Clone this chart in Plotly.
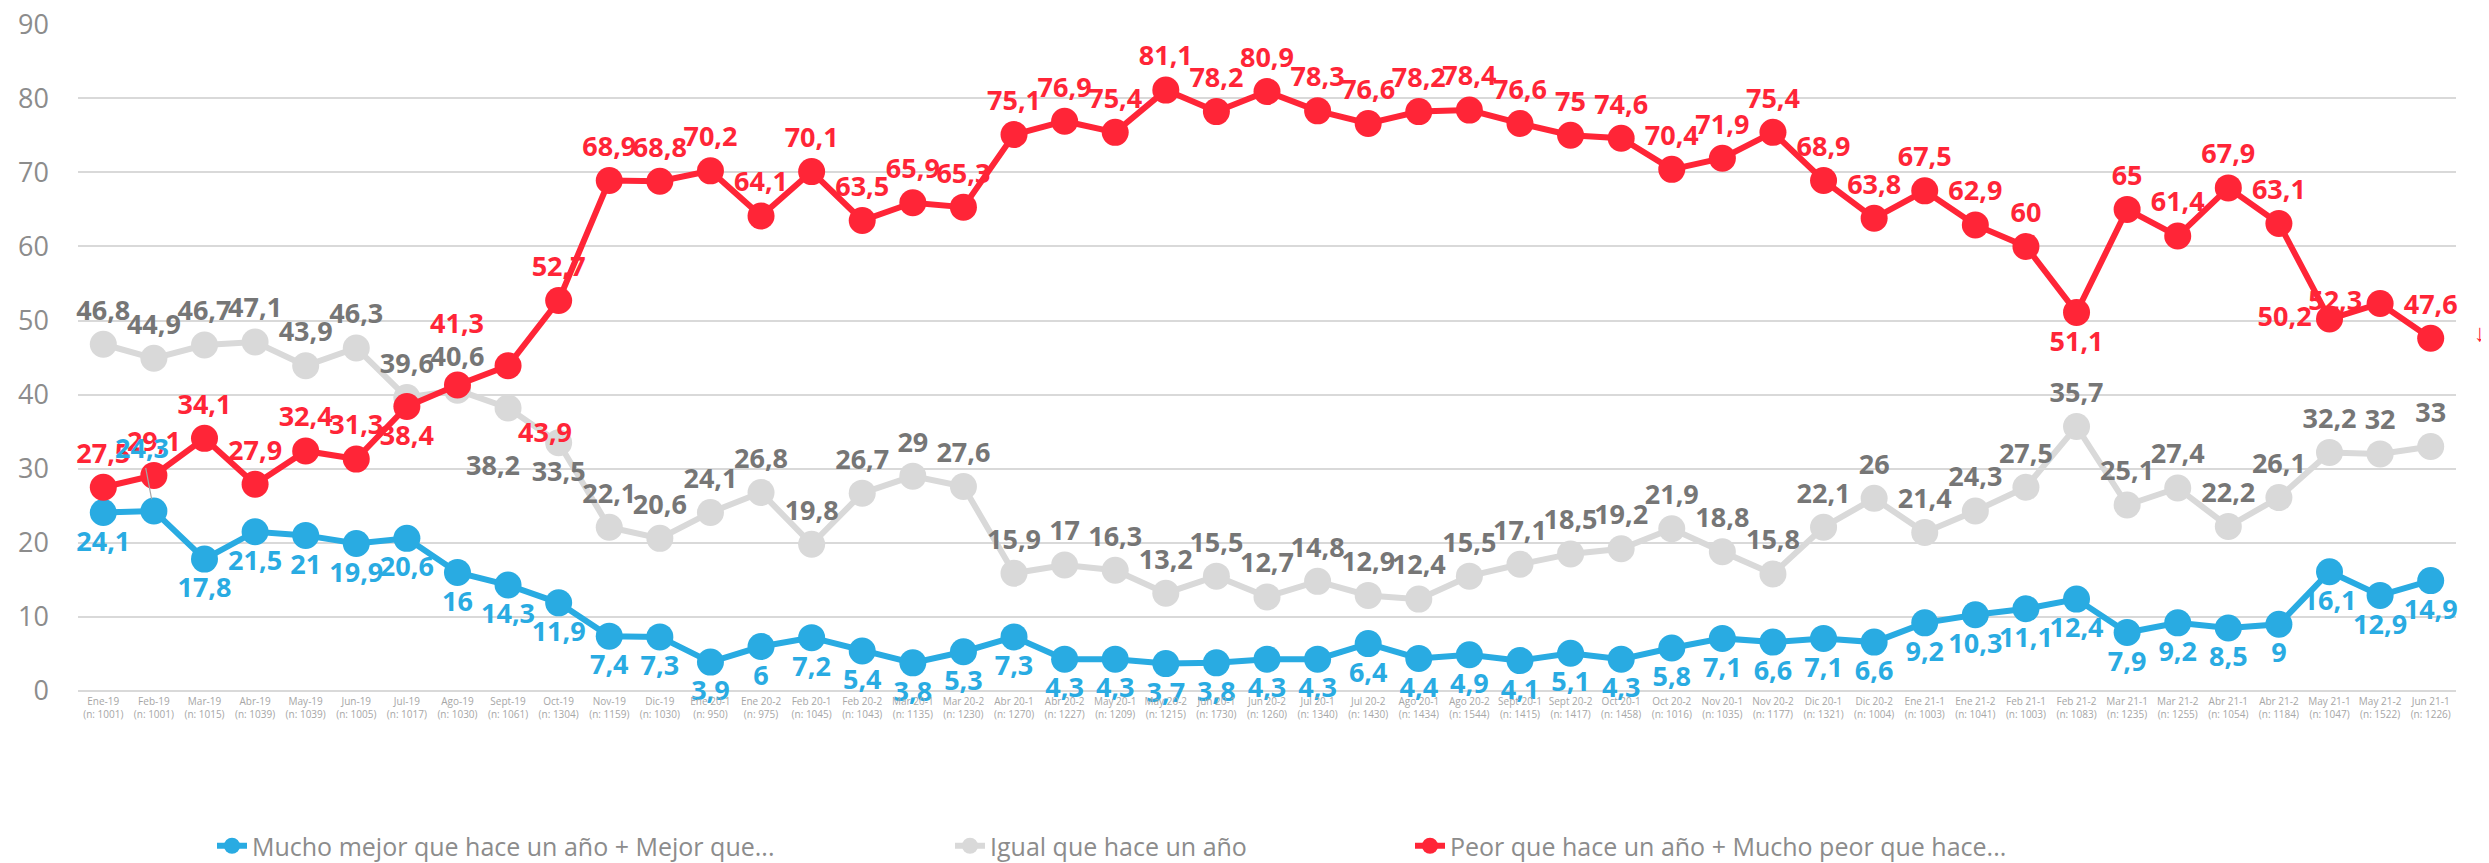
import plotly.graph_objects as go

categories = [
    "Ene-19<br>(n: 1001)", "Feb-19<br>(n: 1001)", "Mar-19<br>(n: 1015)", "Abr-19<br>(n: 1039)",
    "May-19<br>(n: 1039)", "Jun-19<br>(n: 1005)", "Jul-19<br>(n: 1017)", "Ago-19<br>(n: 1030)",
    "Sept-19<br>(n: 1061)", "Oct-19<br>(n: 1304)", "Nov-19<br>(n: 1159)", "Dic-19<br>(n: 1030)",
    "Ene 20-1<br>(n: 950)", "Ene 20-2<br>(n: 975)", "Feb 20-1<br>(n: 1045)", "Feb 20-2<br>(n: 1043)",
    "Mar 20-1<br>(n: 1135)", "Mar 20-2<br>(n: 1230)", "Abr 20-1<br>(n: 1270)", "Abr 20-2<br>(n: 1227)",
    "May 20-1<br>(n: 1209)", "May 20-2<br>(n: 1215)", "Jun 20-1<br>(n: 1730)", "Jun 20-2<br>(n: 1260)",
    "Jul 20-1<br>(n: 1340)", "Jul 20-2<br>(n: 1430)", "Ago 20-1<br>(n: 1434)", "Ago 20-2<br>(n: 1544)",
    "Sept 20-1<br>(n: 1415)", "Sept 20-2<br>(n: 1417)", "Oct 20-1<br>(n: 1458)", "Oct 20-2<br>(n: 1016)",
    "Nov 20-1<br>(n: 1035)", "Nov 20-2<br>(n: 1177)", "Dic 20-1<br>(n: 1321)", "Dic 20-2<br>(n: 1004)",
    "Ene 21-1<br>(n: 1003)", "Ene 21-2<br>(n: 1041)", "Feb 21-1<br>(n: 1003)", "Feb 21-2<br>(n: 1083)",
    "Mar 21-1<br>(n: 1235)", "Mar 21-2<br>(n: 1255)", "Abr 21-1<br>(n: 1054)", "Abr 21-2<br>(n: 1184)",
    "May 21-1<br>(n: 1047)", "May 21-2<br>(n: 1522)", "Jun 21-1<br>(n: 1226)",
]

mejor = [24.1, 24.3, 17.8, 21.5, 21, 19.9, 20.6, 16, 14.3, 11.9,
         7.4, 7.3, 3.9, 6, 7.2, 5.4, 3.8, 5.3, 7.3, 4.3,
         4.3, 3.7, 3.8, 4.3, 4.3, 6.4, 4.4, 4.9, 4.1, 5.1,
         4.3, 5.8, 7.1, 6.6, 7.1, 6.6, 9.2, 10.3, 11.1, 12.4,
         7.9, 9.2, 8.5, 9, 16.1, 12.9, 14.9]

igual = [46.8, 44.9, 46.7, 47.1, 43.9, 46.3, 39.6, 40.6, 38.2, 33.5,
         22.1, 20.6, 24.1, 26.8, 19.8, 26.7, 29, 27.6, 15.9, 17,
         16.3, 13.2, 15.5, 12.7, 14.8, 12.9, 12.4, 15.5, 17.1, 18.5,
         19.2, 21.9, 18.8, 15.8, 22.1, 26, 21.4, 24.3, 27.5, 35.7,
         25.1, 27.4, 22.2, 26.1, 32.2, 32, 33]

peor = [27.5, 29.1, 34.1, 27.9, 32.4, 31.3, 38.4, 41.3, 43.9, 52.7,
        68.9, 68.8, 70.2, 64.1, 70.1, 63.5, 65.9, 65.3, 75.1, 76.9,
        75.4, 81.1, 78.2, 80.9, 78.3, 76.6, 78.2, 78.4, 76.6, 75,
        74.6, 70.4, 71.9, 75.4, 68.9, 63.8, 67.5, 62.9, 60, 51.1,
        65, 61.4, 67.9, 63.1, 50.2, 52.3, 47.6]

y_ticks = [0, 10, 20, 30, 40, 50, 60, 70, 80, 90]

series_names = [
    "Mucho mejor que hace un año + Mejor que...",
    "Igual que hace un año",
    "Peor que hace un año + Mucho peor que hace...",
]

BLUE = "#29abe2"
GRAY_LINE = "#d9d9d9"
GRAY_TEXT = "#767676"
RED = "#ff2537"
AXIS_TEXT = "#8c8c8c"
FONT = "Open Sans"
LABEL_SIZE = 27


def fmt(v):
    return ("%g" % v).replace(".", ",")


n = len(categories)
pos_mejor = ["bottom center"] * n
pos_igual = ["top center"] * n
pos_igual[9] = "bottom center"
pos_peor = ["top center"] * n
pos_peor[6] = "bottom center"
pos_peor[39] = "bottom center"
pos_peor[44] = "middle left"
pos_peor[45] = "middle left"

# labels moved by hand in the original chart: (series, index) -> (dx, dy) in px (dy down)
moved = {
    ("peor", 7): (0, -62),
    ("peor", 8): (37, 66),
    ("igual", 8): (-15, 57),
}

series = {"mejor": mejor, "igual": igual, "peor": peor}
texts = {k: [fmt(v) for v in vals] for k, vals in series.items()}
texts["mejor"][1] = ""
for (k, i) in moved:
    texts[k][i] = ""

fig = go.Figure()

specs = [
    ("mejor", series_names[0], BLUE, BLUE, pos_mejor, "legend"),
    ("igual", series_names[1], GRAY_LINE, GRAY_TEXT, pos_igual, "legend2"),
    ("peor", series_names[2], RED, RED, pos_peor, "legend3"),
]
text_color = {}
for key, name, lc, tc, tpos, lg in specs:
    text_color[key] = tc
    fig.add_trace(go.Scatter(
        x=categories, y=series[key], name=name, mode="lines+markers+text",
        line=dict(color=lc, width=6),
        marker=dict(color=lc, size=27),
        text=texts[key], textposition=tpos,
        textfont=dict(family=FONT, size=LABEL_SIZE, color=tc, weight="bold"),
        cliponaxis=False, legend=lg,
    ))

W, H = 2489, 863
L, R, T, B = 70, 41, 16, 180
pw = W - L - R
ph = H - T - B


def px_to_paper_x(px):
    return (px - L) / pw


def py_to_paper_y(py):
    return (H - B - py) / ph


legend_common = dict(
    orientation="h", yanchor="middle", xanchor="left",
    font=dict(family=FONT, size=25, color=AXIS_TEXT),
    bgcolor="rgba(0,0,0,0)", itemwidth=30,
)

annotations = [
    dict(
        x=categories[1], y=mejor[1], xref="x", yref="y",
        text=fmt(mejor[1]), showarrow=True, arrowhead=0, arrowwidth=1.2,
        arrowcolor="#a6a6a6", ax=-12, ay=-63, standoff=12,
        font=dict(family=FONT, size=LABEL_SIZE, color=BLUE, weight="bold"),
    ),
    dict(
        x=px_to_paper_x(2480), xref="paper", y=48.5, yref="y",
        text="↓", showarrow=False,
        font=dict(family=FONT, size=24, color=RED),
    ),
]
for (k, i), (dx, dy) in moved.items():
    annotations.append(dict(
        x=categories[i], y=series[k][i], xref="x", yref="y",
        text=fmt(series[k][i]), showarrow=False, xshift=dx, yshift=-dy,
        font=dict(family=FONT, size=LABEL_SIZE, color=text_color[k], weight="bold"),
    ))

fig.update_layout(
    template="none",
    width=W, height=H,
    margin=dict(l=L, r=R, t=T, b=B, autoexpand=False),
    paper_bgcolor="white", plot_bgcolor="white",
    showlegend=True,
    legend=dict(x=px_to_paper_x(204), y=py_to_paper_y(838), **legend_common),
    legend2=dict(x=px_to_paper_x(942), y=py_to_paper_y(838), **legend_common),
    legend3=dict(x=px_to_paper_x(1402), y=py_to_paper_y(838), **legend_common),
    xaxis=dict(
        type="category", showgrid=False, zeroline=False, showline=False,
        ticks="", tickangle=0, automargin=False,
        tickfont=dict(family=FONT, size=10, color="#a6a6a6"),
        ticklabelstandoff=3,
        range=[-0.5, n - 0.5],
    ),
    yaxis=dict(
        range=[0, 90.02], tickvals=y_ticks, automargin=False,
        showgrid=True, gridcolor="#d9d9d9", gridwidth=2,
        zeroline=True, zerolinecolor="#d9d9d9", zerolinewidth=2, showline=False,
        tickfont=dict(family=FONT, size=27, color=AXIS_TEXT),
        ticklabelstandoff=28, ticklabeloverflow="allow", ticks="",
    ),
    annotations=annotations,
)

fig.write_html("out.html")
